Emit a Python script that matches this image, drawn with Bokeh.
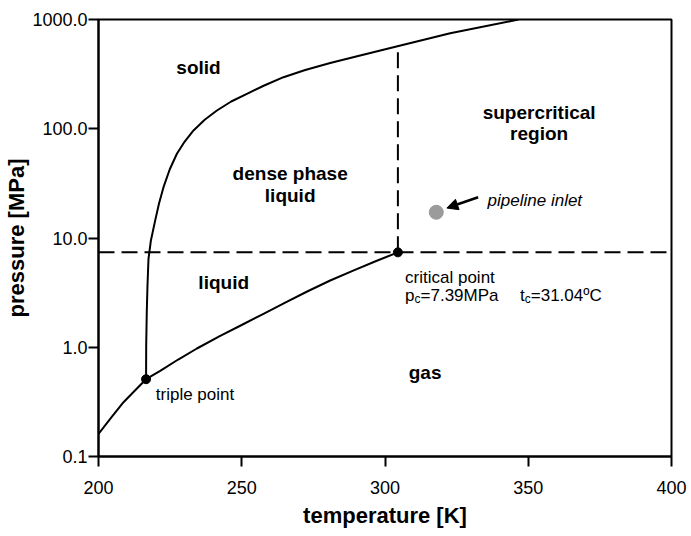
import numpy as np
from bokeh.plotting import figure
from bokeh.models import (Label, Arrow, NormalHead, Span, FixedTicker,
                          PrintfTickFormatter, Range1d)
from bokeh.embed import file_html
from bokeh.resources import INLINE

# ---------------- data ----------------
# melting curve (solid / liquid boundary)
melt_T = [216.6, 216.65, 216.86, 217.10, 217.45, 218.29, 219.79, 221.12,
          222.69, 224.85, 227.36, 230.09, 233.16, 237.07, 241.33, 246.32,
          251.80, 257.84, 264.57, 272.15, 280.87, 292.39, 304.71, 322.76,
          346.60]
melt_p = [0.51, 1.04, 2.17, 3.67, 6.45, 9.49, 14.5, 20.7,
          29.2, 42.4, 59.0, 76.4, 96.4, 120.7, 146.9, 177.6,
          208.9, 248.9, 296.5, 345.0, 399.7, 476.1, 572.1, 749.0,
          1000.0]

# sublimation + vapour pressure curve
vap_T = [200.0, 204.08, 208.73, 212.64, 216.6, 221.54, 227.82, 234.35,
         242.48, 249.98, 257.59, 265.17, 272.84, 280.87, 288.90, 296.93,
         304.5]
vap_p = [0.161, 0.221, 0.314, 0.400, 0.51, 0.608, 0.772, 0.974,
         1.268, 1.598, 2.024, 2.558, 3.238, 4.083, 5.020, 6.159,
         7.39]

triple_T, triple_p = 216.6, 0.51
crit_T, crit_p = 304.5, 7.39
inlet_T, inlet_p = 317.9, 17.2

x_ticks = [200, 250, 300, 350, 400]
y_ticks = [0.1, 1, 10, 100, 1000]

FONT = "Liberation Sans"

p = figure(width=691, height=536,
           x_range=Range1d(200, 400), y_range=Range1d(0.1, 1000),
           y_axis_type="log", output_backend="svg", toolbar_location=None,
           min_border_left=98, min_border_right=20, min_border_top=19,
           min_border_bottom=80,
           background_fill_color="white", border_fill_color="white")

p.grid.visible = False
p.outline_line_color = "black"
p.outline_line_width = 2

for ax in (p.xaxis, p.yaxis):
    ax.axis_line_width = 2
    ax.axis_line_color = "black"
    ax.major_tick_line_width = 2
    ax.major_tick_line_color = "black"
    ax.major_tick_out = 10
    ax.major_tick_in = 0
    ax.minor_tick_line_color = None
    ax.major_label_text_font = FONT
    ax.major_label_text_font_size = "18px"
    ax.major_label_text_color = "black"
    ax.axis_label_text_font = FONT
    ax.axis_label_text_font_size = "22px"
    ax.axis_label_text_font_style = "bold"
    ax.axis_label_text_color = "black"

p.xaxis.ticker = FixedTicker(ticks=x_ticks, minor_ticks=[])
p.yaxis.ticker = FixedTicker(ticks=y_ticks, minor_ticks=[])
p.yaxis.formatter = PrintfTickFormatter(format="%.1f")
p.xaxis.axis_label = "temperature [K]"
p.yaxis.axis_label = "pressure [MPa]"
p.xaxis.major_label_standoff = 14
p.xaxis.axis_label_standoff = 6
p.yaxis.major_label_standoff = 1
p.yaxis.axis_label_standoff = 0

DASH = "16 7"

# dashed critical pressure line
p.add_layout(Span(location=crit_p, dimension="width", line_color="black",
                  line_width=2, line_dash=DASH))
# dashed critical temperature line up to the melting curve
top_p = 10 ** np.interp(crit_T, melt_T, np.log10(melt_p))
p.segment(x0=[crit_T], y0=[crit_p], x1=[crit_T], y1=[top_p],
          line_color="black", line_width=2, line_dash=DASH)

# phase boundaries
p.line(melt_T, melt_p, line_color="black", line_width=2)
p.line(vap_T, vap_p, line_color="black", line_width=2)

# points
p.scatter([triple_T, crit_T], [triple_p, crit_p], size=9,
          fill_color="black", line_color="black")
p.scatter([inlet_T], [inlet_p], size=14, fill_color="#9b9b9b",
          line_color="#9b9b9b")

# arrow to pipeline inlet
p.add_layout(Arrow(end=NormalHead(size=11, fill_color="black",
                                  line_color="black"),
                   x_start=332.5, y_start=23.6, x_end=321.6, y_end=18.8,
                   line_color="black", line_width=2.5))


def lab(x, y, text, size="19px", style="bold", align="center", xo=0, yo=0):
    p.add_layout(Label(x=x, y=y, text=text, x_offset=xo, y_offset=yo,
                       text_font=FONT, text_font_size=size,
                       text_font_style=style, text_align=align,
                       text_baseline="alphabetic", text_color="black"))


# region names
lab(234.9, 366.0, "solid")
lab(266.9, 39.2, "dense phase")
lab(266.9, 24.5, "liquid")
lab(353.8, 141.6, "supercritical")
lab(353.8, 90.0, "region")
lab(243.7, 3.94, "liquid")
lab(314.0, 0.587, "gas")

# point annotations
lab(220.0, 0.37, "triple point", size="17px", style="normal", align="left")
lab(335.8, 22.0, "pipeline inlet", size="17px", style="italic", align="left")

cx = 307.0
lab(cx, 4.37, "critical point", size="17px", style="normal", align="left")
line2 = 2.98
lab(cx, line2, "p", size="17px", style="normal", align="left", xo=0)
lab(cx, line2, "c", size="12px", style="normal", align="left", xo=9.5, yo=-3.5)
lab(cx, line2, "=7.39MPa", size="17px", style="normal", align="left", xo=15.5)
lab(cx, line2, "t", size="17px", style="normal", align="left", xo=115)
lab(cx, line2, "c", size="12px", style="normal", align="left", xo=119.7, yo=-3.5)
lab(cx, line2, "=31.04\u00baC", size="17px", style="normal", align="left", xo=125.7)

open("out.html", "w").write(file_html(p, INLINE))
